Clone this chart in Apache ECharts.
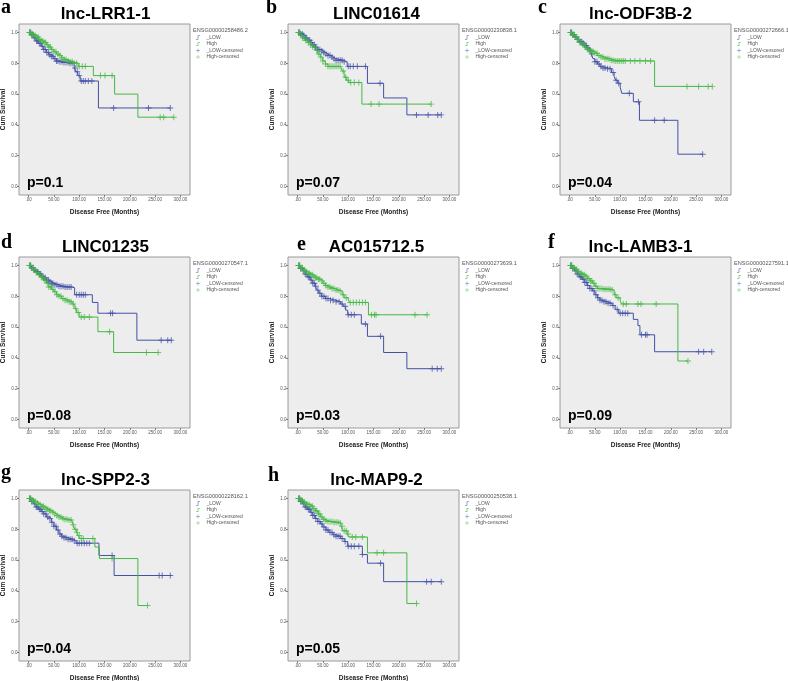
<!DOCTYPE html>
<html><head><meta charset="utf-8">
<script src="https://cdn.jsdelivr.net/npm/echarts@6/dist/echarts.min.js"></script>
<style>html,body{margin:0;padding:0;background:#fff}#c{width:788px;height:681px}</style>
</head><body><div id="c"></div><script>
// ---------- text ----------
const geneNames = ['lnc-LRR1-1','LINC01614','lnc-ODF3B-2','LINC01235','AC015712.5','lnc-LAMB3-1','lnc-SPP2-3','lnc-MAP9-2'];
const panelLetters = ['a','b','c','d','e','f','g','h'];
const ensgIds = ['ENSG00000258486.2','ENSG00000230838.1','ENSG00000272666.1','ENSG00000270547.1','ENSG00000273639.1','ENSG00000227591.1','ENSG00000228162.1','ENSG00000250538.1'];
const pValues = ['p=0.1','p=0.07','p=0.04','p=0.08','p=0.03','p=0.09','p=0.04','p=0.05'];
const legendNames = ['_LOW','High','_LOW-censored','High-censored'];
const xTickVals = [0,50,100,150,200,250,300];
const xTickLabels = ['.00','50.00','100.00','150.00','200.00','250.00','300.00'];
const yTickVals = [0,0.2,0.4,0.6,0.8,1.0];
const yTickLabels = ['0.0','0.2','0.4','0.6','0.8','1.0'];

// ---------- data: [months, cumulative survival] step points ----------
const lowA = [[0,1],[5,0.985],[10,0.965],[15,0.945],[20,0.93],[25,0.91],[30,0.89],[35,0.87],[40,0.855],[45,0.845],[50,0.83],[55,0.815],[60,0.81],[70,0.805],[80,0.80],[90,0.77],[93,0.745],[97,0.72],[102,0.685],[138,0.51],[280,0.51]];
const highA = [[0,1],[5,0.99],[10,0.98],[15,0.97],[20,0.955],[25,0.945],[30,0.935],[35,0.92],[40,0.905],[45,0.89],[50,0.875],[55,0.86],[60,0.85],[65,0.835],[70,0.825],[75,0.815],[80,0.81],[88,0.80],[98,0.78],[128,0.72],[170,0.60],[216,0.45],[287,0.45]];
const lowCensA = [2,4,6,8,11,13,16,18,21,24,27,30,33,36,39,42,45,48,52,55,58,62,66,70,74,78,82,86,92,96,100,104,108,112,118,125,168,237,280];
const highCensA = [2,4,6,8,10,13,16,19,22,25,28,31,34,37,40,43,46,50,54,58,62,66,70,74,78,82,86,90,95,100,106,112,142,151,165,260,267,287];

const lowB = [[0,1],[5,0.99],[10,0.98],[15,0.965],[20,0.95],[25,0.935],[30,0.92],[35,0.905],[40,0.89],[45,0.88],[50,0.87],[55,0.86],[60,0.85],[65,0.84],[70,0.83],[75,0.82],[90,0.81],[98,0.78],[138,0.67],[170,0.575],[216,0.465],[284,0.465]];
const highB = [[0,1],[5,0.98],[10,0.965],[15,0.95],[20,0.935],[25,0.92],[30,0.905],[35,0.885],[40,0.86],[45,0.84],[50,0.815],[55,0.795],[60,0.78],[85,0.775],[88,0.75],[92,0.71],[97,0.69],[101,0.675],[127,0.535],[264,0.535]];
const lowCensB = [2,4,6,9,12,15,18,21,24,27,30,33,36,40,44,48,52,56,60,64,68,72,76,80,84,88,92,100,104,110,118,134,163,235,258,277,284];
const highCensB = [2,4,7,10,13,16,19,22,26,30,34,38,42,46,50,55,60,64,68,72,76,80,84,90,95,100,105,112,121,145,161,264];

const lowC = [[0,1],[5,0.985],[10,0.97],[15,0.955],[20,0.94],[25,0.93],[30,0.915],[35,0.9],[40,0.885],[43,0.86],[46,0.83],[50,0.81],[55,0.795],[60,0.78],[65,0.77],[75,0.765],[83,0.74],[88,0.715],[91,0.69],[95,0.67],[100,0.645],[103,0.605],[126,0.55],[138,0.43],[214,0.21],[263,0.21]];
const highC = [[0,1],[5,0.985],[10,0.97],[15,0.955],[20,0.935],[25,0.92],[30,0.905],[35,0.89],[40,0.88],[45,0.875],[50,0.865],[55,0.85],[60,0.84],[70,0.83],[80,0.82],[90,0.815],[168,0.65],[282,0.65]];
const lowCensC = [2,4,6,9,12,15,18,21,24,27,30,33,36,40,44,50,54,58,62,66,70,75,80,86,92,97,118,136,168,187,263];
const highCensC = [2,4,6,8,11,14,17,20,23,26,29,32,35,38,41,44,47,50,54,58,62,66,70,74,78,82,86,90,94,98,102,106,110,120,129,139,150,160,232,255,274,282];

const lowD = [[0,1],[5,0.985],[10,0.97],[15,0.96],[20,0.945],[25,0.93],[30,0.92],[35,0.905],[40,0.895],[45,0.885],[50,0.875],[60,0.865],[70,0.86],[86,0.855],[91,0.81],[126,0.76],[137,0.69],[214,0.515],[282,0.515]];
const highD = [[0,1],[5,0.985],[10,0.97],[15,0.955],[20,0.94],[25,0.925],[30,0.905],[35,0.885],[40,0.86],[45,0.845],[50,0.83],[55,0.81],[60,0.8],[65,0.785],[70,0.775],[80,0.765],[86,0.75],[90,0.72],[95,0.695],[100,0.665],[137,0.57],[168,0.435],[256,0.435]];
const lowCensD = [2,4,6,9,12,15,18,21,24,27,30,33,36,39,42,45,48,52,56,60,64,68,72,76,80,84,95,100,104,108,112,162,166,262,275,282];
const highCensD = [2,4,7,10,13,16,19,22,25,28,31,34,37,40,44,48,52,56,60,64,68,72,76,80,84,88,93,98,104,110,120,160,233,256];

const lowE = [[0,1],[5,0.98],[10,0.965],[15,0.945],[20,0.925],[25,0.905],[30,0.885],[35,0.865],[38,0.84],[42,0.82],[47,0.8],[55,0.785],[63,0.775],[75,0.765],[85,0.75],[90,0.735],[95,0.71],[99,0.68],[126,0.62],[138,0.54],[170,0.435],[216,0.33],[284,0.33]];
const highE = [[0,1],[5,0.985],[10,0.97],[15,0.96],[20,0.95],[25,0.94],[30,0.93],[35,0.92],[40,0.91],[45,0.9],[50,0.885],[55,0.87],[60,0.86],[65,0.85],[75,0.84],[82,0.835],[88,0.81],[92,0.79],[100,0.775],[103,0.76],[140,0.68],[256,0.68]];
const lowCensE = [2,4,6,9,12,15,18,21,24,27,30,33,36,40,44,48,52,56,60,65,70,76,82,88,94,100,106,112,134,164,266,276,284];
const highCensE = [2,4,6,8,11,14,17,20,23,26,29,32,35,38,41,44,48,52,56,60,64,68,72,76,80,84,90,96,104,110,116,122,128,134,146,152,155,232,256];

const lowF = [[0,1],[5,0.98],[10,0.965],[15,0.945],[20,0.925],[25,0.91],[30,0.89],[35,0.87],[40,0.85],[45,0.835],[50,0.81],[55,0.79],[60,0.775],[65,0.765],[75,0.755],[84,0.74],[90,0.715],[97,0.69],[126,0.65],[135,0.61],[139,0.55],[168,0.44],[281,0.44]];
const highF = [[0,1],[5,0.985],[10,0.975],[15,0.96],[20,0.95],[25,0.94],[30,0.93],[35,0.915],[40,0.9],[45,0.885],[50,0.865],[55,0.85],[65,0.845],[84,0.84],[88,0.81],[92,0.79],[100,0.77],[103,0.75],[214,0.38],[234,0.38]];
const lowCensF = [2,4,6,9,12,15,18,21,24,27,30,33,36,40,44,48,52,56,60,64,68,72,76,80,86,94,100,105,110,115,142,150,153,255,265,281];
const highCensF = [2,4,6,8,11,14,17,20,23,26,29,32,35,38,41,44,48,52,56,60,64,68,72,76,80,84,90,96,106,112,135,141,171,234];

const lowG = [[0,1],[5,0.98],[10,0.965],[15,0.945],[20,0.93],[25,0.915],[30,0.9],[35,0.88],[40,0.87],[45,0.845],[50,0.82],[55,0.795],[60,0.77],[65,0.755],[70,0.745],[78,0.735],[88,0.725],[94,0.71],[139,0.63],[169,0.5],[282,0.5]];
const highG = [[0,1],[5,0.99],[10,0.98],[15,0.97],[20,0.96],[25,0.95],[30,0.94],[35,0.93],[40,0.92],[45,0.91],[50,0.9],[55,0.89],[60,0.88],[65,0.87],[70,0.865],[78,0.86],[85,0.855],[88,0.83],[91,0.8],[95,0.78],[98,0.76],[101,0.74],[131,0.685],[140,0.61],[216,0.305],[235,0.305]];
const lowCensG = [2,4,6,9,12,15,18,21,24,27,30,34,38,42,46,50,54,58,62,66,70,74,78,82,86,90,96,100,105,110,115,120,165,258,264,280];
const highCensG = [2,4,6,8,11,14,17,20,23,26,29,32,35,38,41,44,48,52,56,60,64,68,72,76,80,84,88,92,96,100,104,108,127,165,235];

const lowH = [[0,1],[5,0.98],[10,0.965],[15,0.945],[20,0.93],[25,0.91],[30,0.89],[35,0.87],[40,0.85],[45,0.835],[50,0.815],[56,0.795],[62,0.78],[70,0.765],[76,0.755],[85,0.74],[92,0.72],[99,0.69],[128,0.636],[138,0.58],[170,0.46],[284,0.46]];
const highH = [[0,1],[5,0.99],[10,0.975],[15,0.965],[20,0.96],[25,0.95],[30,0.935],[35,0.92],[40,0.9],[45,0.88],[50,0.865],[55,0.855],[60,0.85],[70,0.845],[82,0.84],[86,0.82],[89,0.79],[98,0.77],[101,0.75],[138,0.647],[216,0.318],[235,0.318]];
const lowCensH = [2,4,6,9,12,15,18,21,24,27,30,33,36,40,44,48,52,56,60,64,68,72,76,80,84,88,94,100,106,112,121,128,164,255,264,284];
const highCensH = [2,4,6,8,11,14,17,20,23,26,29,32,35,38,41,44,48,52,56,60,64,68,72,76,80,84,88,92,96,100,108,115,128,157,170,235];

const lowCurves = [lowA,lowB,lowC,lowD,lowE,lowF,lowG,lowH];
const highCurves = [highA,highB,highC,highD,highE,highF,highG,highH];
const lowCensors = [lowCensA,lowCensB,lowCensC,lowCensD,lowCensE,lowCensF,lowCensG,lowCensH];
const highCensors = [highCensA,highCensB,highCensC,highCensD,highCensE,highCensF,highCensG,highCensH];

// ---------- layout & style ----------
const BLUE = '#4351a6', GREEN = '#45b845';
const colLeft = [19, 288, 560], rowTop = [24, 257, 490], BOX = 171;
const titleDx = [1, 3, -5];
const letterPos = [[1,8],[266,8],[538,8],[1,243],[297,245],[548,243],[1,473],[268,476]];
const FONT = '"Liberation Sans", Arial, sans-serif';
const PLUS = 'path://M4.2,0 L5.8,0 L5.8,4.2 L10,4.2 L10,5.8 L5.8,5.8 L5.8,10 L4.2,10 L4.2,5.8 L0,5.8 L0,4.2 L4.2,4.2 Z';
const STEP_ICON = 'path://M0,8.6 L4.3,8.6 L4.3,0 L10,0 L10,1.4 L5.7,1.4 L5.7,10 L0,10 Z';
const CENS_ICON = 'path://M0,4.4 L4.4,4.4 L4.4,0 L5.6,0 L5.6,4.4 L10,4.4 L10,5.6 L5.6,5.6 L5.6,10 L4.4,10 L4.4,5.6 L0,5.6 Z';

function survAt(curve, t) {
  let s = curve[0][1];
  for (const [ct, cs] of curve) { if (ct <= t) s = cs; else break; }
  return s;
}

const grids = [], xAxes = [], yAxes = [], series = [], legends = [], graphics = [];
for (let i = 0; i < 8; i++) {
  const col = i % 3, row = Math.floor(i / 3);
  const L = colLeft[col], T = rowTop[row];
  grids.push({left: L, top: T, width: BOX, height: BOX, show: true, backgroundColor: '#ededed',
    borderColor: '#9a9a9a', borderWidth: 1, containLabel: false, outerBoundsMode: 'none'});
  xAxes.push({gridIndex: i, type: 'value', min: -19, max: 319, position: 'bottom',
    axisLine: {show: false, onZero: false}, splitLine: {show: false},
    axisTick: {show: true, length: 2, customValues: xTickVals, lineStyle: {color: '#666', width: 0.8}},
    axisLabel: {customValues: xTickVals, fontSize: 4.5, color: '#555', margin: 2, fontFamily: FONT,
      formatter: v => xTickLabels[xTickVals.indexOf(v)]},
    name: 'Disease Free (Months)', nameLocation: 'middle', nameGap: 14,
    nameTextStyle: {fontSize: 6.5, fontWeight: 'bold', color: '#222', fontFamily: FONT}});
  yAxes.push({gridIndex: i, type: 'value', min: -0.055, max: 1.055, position: 'left',
    axisLine: {show: false, onZero: false}, splitLine: {show: false},
    axisTick: {show: true, length: 2, customValues: yTickVals, lineStyle: {color: '#666', width: 0.8}},
    axisLabel: {customValues: yTickVals, fontSize: 4.5, color: '#555', margin: 1.5, fontFamily: FONT,
      formatter: v => yTickLabels[yTickVals.indexOf(v)]},
    name: 'Cum Survival', nameLocation: 'middle', nameGap: 12, nameRotate: 90,
    nameTextStyle: {fontSize: 6.5, fontWeight: 'bold', color: '#222', fontFamily: FONT}});
  series.push({type: 'line', name: '_LOW', xAxisIndex: i, yAxisIndex: i, data: lowCurves[i], step: 'end',
    symbol: 'none', lineStyle: {color: BLUE, width: 1}, itemStyle: {color: BLUE}, z: 2, silent: true});
  series.push({type: 'line', name: 'High', xAxisIndex: i, yAxisIndex: i, data: highCurves[i], step: 'end',
    symbol: 'none', lineStyle: {color: GREEN, width: 1}, itemStyle: {color: GREEN}, z: 2, silent: true});
  series.push({type: 'scatter', name: '_LOW-censored', xAxisIndex: i, yAxisIndex: i,
    data: lowCensors[i].map(t => [t, survAt(lowCurves[i], t)]), symbol: PLUS, symbolSize: 6,
    itemStyle: {color: BLUE}, z: 3, silent: true});
  series.push({type: 'scatter', name: 'High-censored', xAxisIndex: i, yAxisIndex: i,
    data: highCensors[i].map(t => [t, survAt(highCurves[i], t)]), symbol: PLUS, symbolSize: 6,
    itemStyle: {color: GREEN}, z: 3, silent: true});
  legends.push({left: L + BOX + 6, top: T + 11, orient: 'vertical', padding: 0, itemWidth: 7, itemHeight: 4,
    itemGap: 1.5, selectedMode: false, itemStyle: {borderWidth: 0},
    textStyle: {fontSize: 5, color: '#555', fontFamily: FONT, lineHeight: 5},
    data: [{name: legendNames[0], icon: STEP_ICON}, {name: legendNames[1], icon: STEP_ICON},
           {name: legendNames[2], icon: CENS_ICON}, {name: legendNames[3], icon: CENS_ICON}]});
  graphics.push({type: 'text', x: L + BOX + 3, y: T + 6,
    style: {text: ensgIds[i], font: '5.6px ' + FONT, fill: '#555', align: 'left', verticalAlign: 'middle',
      textAlign: 'left', textVerticalAlign: 'middle'}});
  graphics.push({type: 'text', x: L + BOX / 2 + titleDx[col], y: T - 10,
    style: {text: geneNames[i], font: 'bold 17px ' + FONT, fill: '#000', align: 'center', verticalAlign: 'middle',
      textAlign: 'center', textVerticalAlign: 'middle'}});
  graphics.push({type: 'text', x: letterPos[i][0], y: letterPos[i][1],
    style: {text: panelLetters[i], font: 'bold 20px "Liberation Serif", "Times New Roman", serif', fill: '#000',
      align: 'left', verticalAlign: 'middle', textAlign: 'left', textVerticalAlign: 'middle'}});
  graphics.push({type: 'text', x: L + 8, y: T + BOX - 12,
    style: {text: pValues[i], font: 'bold 14px ' + FONT, fill: '#000', align: 'left', verticalAlign: 'middle',
      textAlign: 'left', textVerticalAlign: 'middle'}, z: 10});
}

const chart = echarts.init(document.getElementById('c'), null, {renderer: 'canvas'});
chart.setOption({
  animation: false,
  backgroundColor: '#fff',
  grid: grids, xAxis: xAxes, yAxis: yAxes, series: series, legend: legends,
  graphic: {elements: graphics}
});
</script></body></html>
